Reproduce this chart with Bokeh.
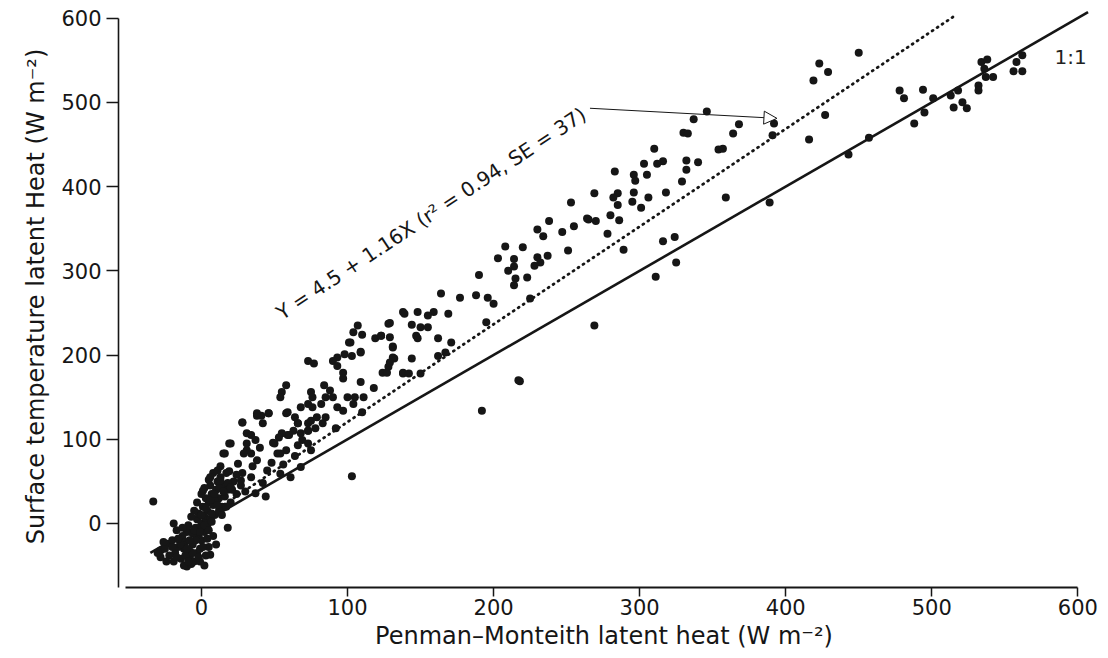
from bokeh.plotting import figure
from bokeh.models import Range1d, FixedTicker, Label, Arrow, NormalHead
from bokeh.embed import file_html
from bokeh.resources import INLINE

# ---- data (W m-2) ----
pm_x = [
    -33, -19, 18, 6, -19, -10, -28, -23, 44, 37,
    -15, -12, -8, -5, -3, -10, -18, -14, -6, -2, 0, -4, 2, -1, -7, -12, -16, -22, -25, -20,
    -13, -9, -3, 0, 2, 4, 1, -2, 5, 3, 7, 8, 10, 6, 12, 14, 9, 11, 15, -5, 0, 4, 6, -1, 3,
    5, 2, -6, -11, -24, -28, -30, -26, -17, -8, 1, 3, 7, 9, 12, 16, 18, 20, 13, 17, 22, 24, 8, 10,
    -20, -17, -14, -11, -9, -6, -4, -2, 1, 4, -8, -5, -1, 2, 5, 7, 0, 3, 6, 9, 12, 15, 18, 21,
    14, 11, 17, -3, 2, 5, 8, 13, 19, 24, 27, 30, -10, -13, -7, -16,
    25, 31, 38, 45, 52, 59, 66, 73, 11, 6, 1, 13, 20, 27, 34, 54, 61, 68, 75, 19, 15, 31, 38, 46,
    58, 28, 28, 35, 42, 48, 56, 64, 40, 50,
    107, 104, 110, 101, 119, 123, 129, 131, 128, 138, 109, 103, 98, 93, 90, 93, 97, 97, 73, 77,
    132, 128, 124, 138, 109, 118, 84, 88, 90, 85, 93, 97, 100, 105, 111, 104, 110, 58, 55, 54,
    75, 76, 73, 76, 82, 68, 59, 66, 73, 75, 79, 85, 83, 78, 73, 68, 69, 73, 66, 63, 60, 64, 55,
    53, 49, 58, 54, 46, 41, 38, 42, 28, 34, 37, 31, 20, 16, 29, 34, 92,
    253, 238, 230, 234, 247, 255, 264, 251, 237, 220, 208, 203, 214, 214, 210, 215, 214, 223, 230,
    228, 232, 190, 188, 196, 200, 225, 177, 164, 169, 159, 155, 148, 139, 144, 150, 155, 147, 148,
    162, 171, 129, 131, 131, 129, 144, 162, 167, 195, 123, 127, 138, 142, 150, 217, 102, 109,
    346, 337, 330, 333, 368, 364, 310, 354, 357, 316, 312, 303, 332, 340, 332, 283, 296, 297, 305,
    329, 269, 285, 282, 296, 295, 306, 318, 285, 301, 280, 265, 270, 286, 278, 359, 289, 316, 324,
    325, 311, 103, 192, 218, 269,
    423, 429, 419, 450, 392, 391, 427, 416, 389, 443, 457, 478, 481, 494, 501, 495, 488, 513, 518,
    515, 521, 524, 532, 532, 534, 538, 536, 537, 542, 558, 562, 556, 562,
]
st_y = [
    26, 0, -5, -37, -45, -51, -32, -24, 32, 36,
    -20, -30, -40, -45, -35, -10, -35, -42, -25, -15, -20, -5, -10, -30, -48, -50, -28, -38, -30, -20,
    -15, -2, 5, 0, 8, 15, 20, 12, 25, 30, 35, 22, 40, 45, 30, 20, 10, 50, 45, 15, 35, -2, 5, -45, -38,
    -28, -50, -12, -22, -45, -40, -35, -22, -8, -33, -5, 0, 12, 28, 15, 32, 40, 25, 55, 60, 50, 35, -15, -25,
    -28, -40, -25, -38, -45, -35, -20, -40, -28, -18, -20, -8, -10, -2, -8, 2, 10, 18, 28, 35, 42, 38, 48, 40,
    10, 22, 20, 25, 42, 52, 60, 68, 62, 58, 45, 38, -30, -5, 8, -18,
    71, 87, 75, 63, 83, 105, 119, 110, 63, 55, 39, 51, 43, 51, 55, 59, 55, 67, 87, 95, 83, 107, 128, 131,
    131, 120, 60, 68, 48, 72, 70, 80, 90, 95,
    235, 227, 224, 215, 220, 223, 221, 209, 237, 251, 204, 199, 201, 197, 193, 187, 179, 172, 193, 190,
    196, 186, 179, 178, 168, 161, 164, 158, 150, 150, 138, 134, 150, 150, 150, 142, 132, 164, 156, 150,
    156, 150, 142, 138, 142, 138, 132, 119, 119, 122, 126, 126, 119, 113, 110, 107, 99, 95, 93, 110, 105, 126, 107,
    102, 96, 87, 83, 131, 128, 131, 119, 120, 105, 99, 95, 95, 83, 83, 83, 113,
    381, 359, 349, 341, 346, 353, 362, 324, 318, 328, 329, 315, 314, 305, 300, 291, 283, 292, 316,
    306, 310, 295, 271, 268, 261, 267, 268, 273, 249, 251, 247, 251, 249, 236, 233, 233, 223, 220,
    220, 215, 238, 210, 197, 191, 196, 199, 203, 239, 223, 179, 179, 178, 178, 170, 215, 203,
    489, 480, 464, 463, 474, 463, 445, 444, 445, 430, 427, 427, 431, 429, 420, 418, 414, 407, 414,
    406, 392, 392, 387, 393, 382, 387, 393, 378, 375, 366, 361, 359, 360, 344, 387, 325, 335, 340,
    310, 293, 56, 134, 169, 235,
    546, 536, 526, 559, 475, 461, 485, 456, 381, 438, 458, 514, 505, 515, 505, 488, 475, 508, 514,
    494, 500, 493, 520, 514, 548, 551, 540, 530, 530, 548, 556, 537, 537,
]
one_to_one_x = [-35, 607]
fit_intercept = 4.5
fit_slope = 1.16
fit_x = [12, 515]
ticks = [0, 100, 200, 300, 400, 500, 600]
x_title = "Penman\u2013Monteith latent heat (W m\u207b\u00b2)"
y_title = "Surface temperature latent Heat (W m\u207b\u00b2)"
fit_text = "Y = 4.5 + 1.16X  (r\u00b2 = 0.94, SE = 37)"
ratio_text = "1:1"

FONT = "DejaVu Sans"
INK = "#161616"

p = figure(width=1108, height=658, output_backend="svg", toolbar_location=None,
           x_range=Range1d(-56.8, 608), y_range=Range1d(-76, 615),
           min_border_left=118, min_border_right=19, min_border_top=5, min_border_bottom=71)
p.outline_line_color = None
p.grid.visible = False
p.background_fill_color = "white"

for ax in (p.xaxis[0], p.yaxis[0]):
    ax.ticker = FixedTicker(ticks=ticks)
    ax.minor_tick_line_color = None
    ax.axis_line_color = INK
    ax.major_tick_line_color = INK
    ax.major_tick_in = 0
    ax.major_label_text_font = FONT
    ax.major_label_text_font_size = "21px"
    ax.major_label_text_color = INK
    ax.axis_label_text_font = FONT
    ax.axis_label_text_font_size = "24px"
    ax.axis_label_text_font_style = "normal"
    ax.axis_label_text_color = INK

p.xaxis.axis_label = x_title
p.xaxis.bounds = (-52, 600)
p.xaxis.axis_line_width = 2
p.xaxis.major_tick_line_width = 1.5
p.xaxis.major_tick_out = 9
p.xaxis.major_label_standoff = 2
p.xaxis.axis_label_standoff = 4

p.yaxis.axis_label = y_title
p.yaxis.bounds = (-76, 600)
p.yaxis.axis_line_width = 1.6
p.yaxis.major_tick_line_width = 1.3
p.yaxis.major_tick_out = 12
p.yaxis.major_label_standoff = 5
p.yaxis.axis_label_standoff = 8

# 1:1 line
p.line(one_to_one_x, one_to_one_x, line_color=INK, line_width=2.6)
# regression line
fit_y = [fit_intercept + fit_slope * v for v in fit_x]
p.line(fit_x, fit_y, line_color=INK, line_width=2.8, line_dash="1 5", line_cap="round")

p.scatter(pm_x, st_y, size=8, color=INK, line_width=0)

p.add_layout(Label(x=159, y=370, text=fit_text, angle=0.585, angle_units="rad",
                   text_align="center", text_baseline="middle", text_font=FONT,
                   text_font_size="20px", text_color=INK))
p.add_layout(Arrow(x_start=266, y_start=493, x_end=394, y_end=481,
                   line_color=INK, line_width=1,
                   end=NormalHead(size=13, fill_color="white", line_color=INK, line_width=1)))
p.add_layout(Label(x=584, y=554, text=ratio_text, text_align="left", text_baseline="middle",
                   text_font=FONT, text_font_size="20px", text_color="#222222"))

open("out.html", "w").write(file_html(p, INLINE))
